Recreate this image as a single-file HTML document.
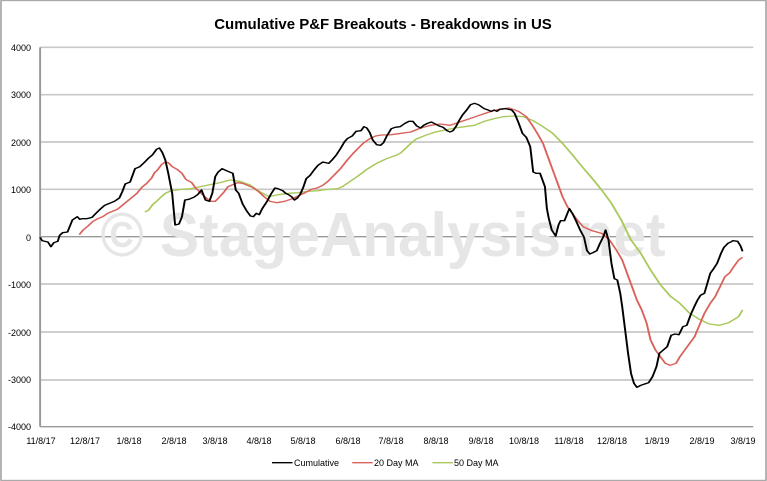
<!DOCTYPE html>
<html><head><meta charset="utf-8"><style>
body{margin:0;background:#fff}
#c{position:relative;width:767px;height:481px;overflow:hidden;font-family:"Liberation Sans",sans-serif}
svg{position:absolute;left:0;top:0}
</style></head><body><div id="c">
<svg width="767" height="481" viewBox="0 0 1568 1443" preserveAspectRatio="none">
<rect x="2" y="2" width="1564" height="1439" fill="#fff" stroke="#999" stroke-width="3"/>
<g stroke="#c8c8c8" stroke-width="5">
<line x1="82" y1="142" x2="1540" y2="142"/><line x1="82" y1="284" x2="1540" y2="284"/><line x1="82" y1="426" x2="1540" y2="426"/><line x1="82" y1="568" x2="1540" y2="568"/><line x1="82" y1="852" x2="1540" y2="852"/><line x1="82" y1="996" x2="1540" y2="996"/><line x1="82" y1="1140" x2="1540" y2="1140"/>
</g>
<line x1="82" y1="710" x2="1540" y2="710" stroke="#999" stroke-width="4"/>
<line x1="82" y1="1280" x2="1540" y2="1280" stroke="#999" stroke-width="4"/>
<line x1="82" y1="142" x2="82" y2="1280" stroke="#999" stroke-width="4"/>
</svg>
<svg width="767" height="481" viewBox="0 0 767 481">
<text x="383" y="256" text-anchor="middle" font-size="62" font-weight="bold" fill="#e6e6e6" textLength="565" lengthAdjust="spacingAndGlyphs" font-family="Liberation Sans,sans-serif">© StageAnalysis.net</text>
</svg>
<svg width="767" height="481" viewBox="0 0 1568 1443" preserveAspectRatio="none">
<g fill="none" stroke-width="4" stroke-linejoin="round">
<polyline stroke="#a8c85a" points="296,636 304,630 312,614 320,604 330,590 338,580 350,572 370,568 390,566 410,560 430,554 450,548 470,540 490,544 510,554 530,574 550,590 570,584 590,580 610,578 630,574 650,572 670,568 690,566 700,560 710,550 730,530 750,508 770,490 790,476 810,466 820,458 830,444 840,430 850,418 870,406 890,396 910,390 930,384 950,380 970,376 990,364 1010,356 1030,350 1050,348 1070,350 1090,362 1110,380 1130,400 1150,430 1170,464 1190,500 1210,534 1230,570 1250,610 1270,660 1290,720 1310,760 1330,810 1350,854 1370,888 1390,910 1410,940 1430,958 1450,972 1470,976 1490,968 1510,950 1518,930"/>
<polyline stroke="#d9625a" points="162,704 170,690 180,678 190,664 200,656 210,650 220,640 230,634 240,628 250,616 260,604 270,592 280,580 290,562 300,550 310,534 316,518 322,510 330,494 338,486 344,488 352,500 362,508 372,520 380,538 392,548 400,564 410,578 420,592 430,604 440,604 448,592 458,576 466,560 476,554 486,548 496,550 506,556 516,562 528,574 540,590 552,604 566,608 582,604 598,596 612,586 624,578 636,568 648,564 660,556 672,542 684,524 696,506 710,480 722,460 734,442 744,428 756,416 768,408 780,405 800,404 820,400 840,396 860,384 880,376 900,372 920,376 940,366 960,356 980,346 1000,336 1020,328 1040,324 1060,334 1076,350 1090,380 1100,404 1110,430 1120,470 1130,510 1140,550 1150,590 1160,620 1170,640 1180,660 1192,680 1210,692 1230,700 1246,720 1260,750 1272,780 1282,820 1292,860 1302,900 1312,930 1322,970 1330,1020 1340,1050 1350,1070 1360,1090 1370,1096 1382,1090 1390,1070 1400,1050 1410,1030 1420,1010 1430,975 1440,940 1452,910 1462,890 1472,860 1482,830 1492,818 1500,800 1510,780 1518,772"/>
<polyline stroke="#000" points="82,712 86,722 92,724 98,726 104,740 110,728 118,724 122,706 128,698 138,696 148,660 158,650 163,658 168,656 178,656 188,652 196,640 206,626 214,616 224,610 234,604 244,594 250,575 256,552 266,546 276,506 286,500 296,486 304,474 312,464 320,448 326,444 332,458 338,480 344,520 348,550 352,580 358,675 366,672 372,650 378,600 386,598 396,592 404,584 412,570 420,600 428,604 434,580 440,530 446,516 454,506 466,514 476,520 482,570 488,580 496,612 504,632 512,648 518,650 524,640 530,644 536,626 546,604 554,582 562,564 568,566 578,572 584,580 590,584 596,590 602,600 608,594 614,582 620,562 626,536 634,526 642,510 650,496 660,486 672,490 680,478 688,464 696,446 704,426 710,416 720,408 728,394 738,392 744,380 750,384 756,398 762,420 770,434 778,436 784,428 790,410 800,386 808,382 818,380 828,370 836,364 844,364 852,378 860,384 866,376 874,370 882,366 890,372 898,378 906,382 914,392 920,396 926,392 932,380 940,358 946,344 954,330 962,314 970,310 978,314 990,326 998,330 1004,334 1010,330 1016,334 1022,328 1034,326 1046,330 1052,340 1060,368 1068,400 1076,412 1084,440 1090,516 1096,520 1104,520 1110,544 1114,560 1118,626 1122,656 1128,690 1136,708 1142,674 1146,662 1154,662 1160,640 1164,626 1170,640 1178,664 1186,690 1194,712 1200,752 1206,762 1212,758 1220,752 1226,732 1234,708 1238,690 1244,720 1250,790 1256,836 1262,840 1268,880 1272,920 1278,990 1284,1060 1290,1120 1296,1150 1302,1162 1310,1156 1318,1152 1326,1148 1334,1130 1342,1100 1348,1060 1356,1050 1364,1040 1372,1006 1380,1002 1388,1004 1396,980 1404,976 1412,944 1420,918 1426,900 1432,886 1440,880 1446,850 1452,820 1458,808 1466,790 1474,760 1480,742 1488,730 1494,726 1498,722 1508,724 1514,738 1518,754"/>
<line x1="556" y1="1388" x2="598" y2="1388" stroke="#000"/>
<line x1="720" y1="1388" x2="762" y2="1388" stroke="#d9625a"/>
<line x1="884" y1="1388" x2="926" y2="1388" stroke="#a8c85a"/>
</g>
</svg>
<svg width="767" height="481" viewBox="0 0 767 481" font-family="Liberation Sans,sans-serif">
<text x="383" y="29" text-anchor="middle" font-size="15" font-weight="bold" fill="#000">Cumulative P&amp;F Breakouts - Breakdowns in US</text>
<g font-size="9" text-anchor="end" fill="#000">
<text x="31" y="51">4000</text><text x="31" y="98">3000</text><text x="31" y="146">2000</text><text x="31" y="193">1000</text><text x="31" y="241">0</text><text x="31" y="288">-1000</text><text x="31" y="336">-2000</text><text x="31" y="383">-3000</text><text x="31" y="430">-4000</text>
</g>
<g font-size="9" text-anchor="middle" fill="#000">
<text x="41" y="444">11/8/17</text><text x="85" y="444">12/8/17</text><text x="129" y="444">1/8/18</text><text x="174" y="444">2/8/18</text><text x="215" y="444">3/8/18</text><text x="259" y="444">4/8/18</text><text x="303" y="444">5/8/18</text><text x="348" y="444">6/8/18</text><text x="391" y="444">7/8/18</text><text x="436" y="444">8/8/18</text><text x="481" y="444">9/8/18</text><text x="524" y="444">10/8/18</text><text x="569" y="444">11/8/18</text><text x="612" y="444">12/8/18</text><text x="657" y="444">1/8/19</text><text x="702" y="444">2/8/19</text><text x="743" y="444">3/8/19</text>
</g>
<g font-size="9" fill="#000">
<text x="294" y="466">Cumulative</text><text x="374" y="466">20 Day MA</text><text x="454" y="466">50 Day MA</text>
</g>
</svg>
</div></body></html>
